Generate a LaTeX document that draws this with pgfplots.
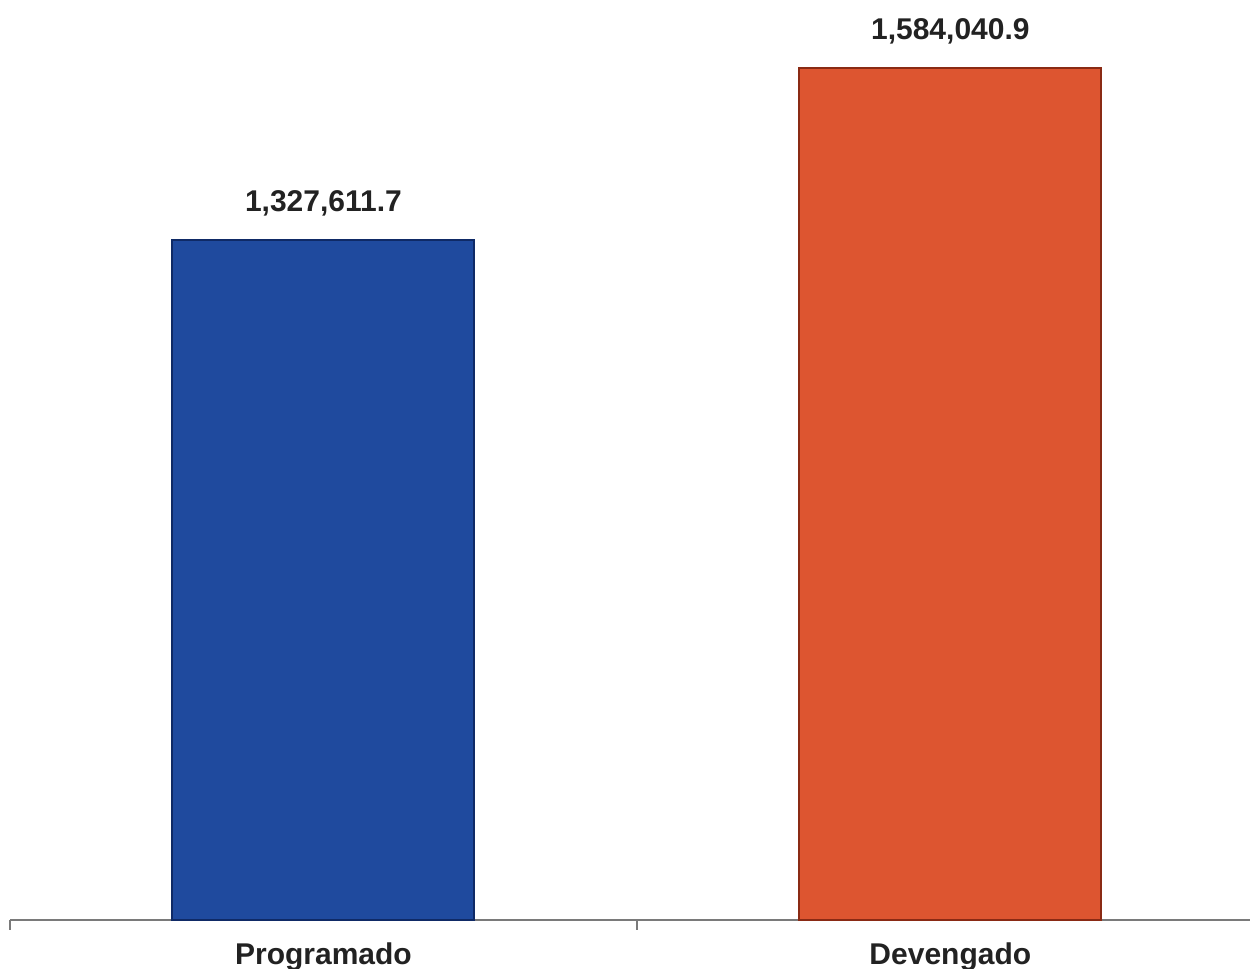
\documentclass[border=0pt]{standalone}
\usepackage{fontspec}
\setmainfont{Liberation Sans}
\usepackage{pgfplots}
\pgfplotsset{compat=1.18}
\definecolor{barblue}{HTML}{1F4A9E}
\definecolor{barblueedge}{HTML}{0F2A66}
\definecolor{barorange}{HTML}{DD5530}
\definecolor{barorangeedge}{HTML}{8A2A14}
\definecolor{axgray}{HTML}{7A7A7A}
\definecolor{txt}{HTML}{222222}
\begin{document}
\begin{tikzpicture}
\useasboundingbox (0,0) rectangle (625pt,484.5pt);
\begin{axis}[
  at={(5pt,24.5pt)}, anchor=south west,
  scale only axis,
  width=620pt, height=460pt,
  xmin=-0.5, xmax=1.478,
  ymin=313822, ymax=1685422,
  hide y axis,
  axis x line*=bottom,
  x axis line style={axgray, line width=0.75pt, -},
  xtick={0,1},
  xticklabels={Programado,Devengado},
  major tick length=0pt,
  xticklabel style={font=\bfseries\fontsize{15}{18}\selectfont, text=txt, anchor=north, inner sep=0pt, yshift=-11pt},
  extra x ticks={-0.5,0.5},
  extra x tick labels={},
  extra x tick style={major tick length=5pt, tick align=outside, tick style={axgray, line width=0.75pt}},
  bar width=0.4817,
  ybar, bar shift=0pt,
  clip=false,
  point meta=explicit symbolic,
  nodes near coords,
  every node near coord/.append style={font=\bfseries\fontsize{15}{18}\selectfont, text=txt, anchor=base, inner sep=0pt, yshift=14pt},
]
\addplot[fill=barblue, draw=barblueedge, line width=1pt] coordinates {(0,1327611.7) [1,327,611.7]};
\addplot[fill=barorange, draw=barorangeedge, line width=1pt] coordinates {(1,1584040.9) [1,584,040.9]};
\end{axis}
\end{tikzpicture}
\end{document}
